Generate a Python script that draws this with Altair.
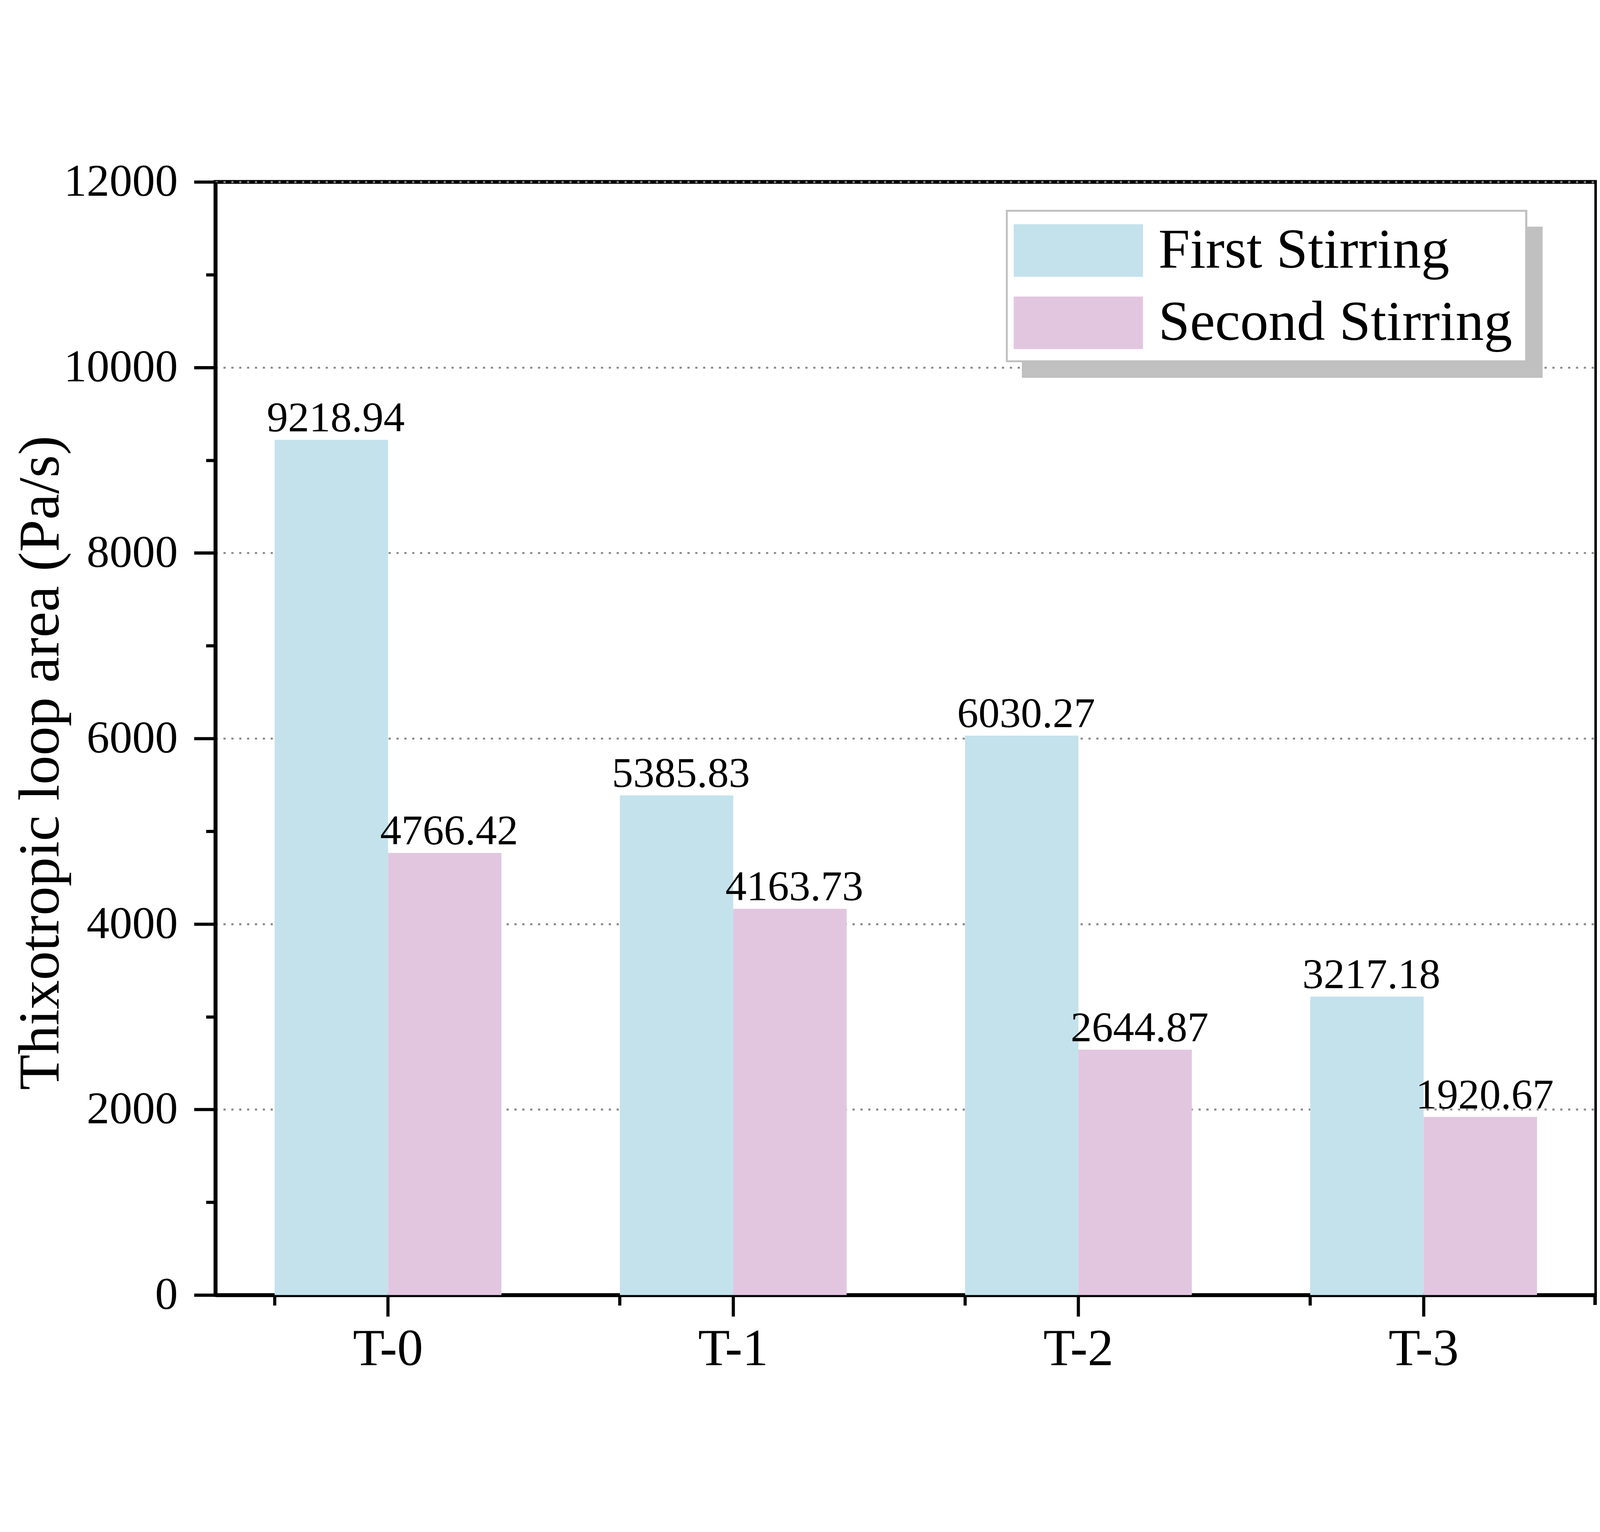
import altair as alt
import pandas as pd

categories = ["T-0", "T-1", "T-2", "T-3"]
series = ["First Stirring", "Second Stirring"]
first_values = [9218.94, 5385.83, 6030.27, 3217.18]
second_values = [4766.42, 4163.73, 2644.87, 1920.67]
colors = ["#C3E2EC", "#E2C6E0"]
y_major = [0, 2000, 4000, 6000, 8000, 10000, 12000]
y_minor = [1000, 3000, 5000, 7000, 9000, 11000]
y_title = "Thixotropic loop area (Pa/s)"

rows = []
for c, a, b in zip(categories, first_values, second_values):
    rows.append({"category": c, "series": series[0], "value": a})
    rows.append({"category": c, "series": series[1], "value": b})
df = pd.DataFrame(rows)

W, H = 4386, 3536
FONT = "Liberation Serif"

xscale = alt.Scale(domain=categories, paddingInner=0.343, paddingOuter=0.1715)
yscale = alt.Scale(domain=[0, 12000], nice=False, zero=True)
offscale = alt.Scale(domain=series, paddingInner=0, paddingOuter=0)
color_scale = alt.Scale(domain=series, range=colors)

base = alt.Chart(df)

bars = base.mark_bar().encode(
    x=alt.X("category:N", scale=xscale, sort=categories,
            axis=alt.Axis(orient="bottom", title=None, labelAngle=0, labelFont=FONT,
                          labelFontSize=165, labelColor="black", labelPadding=25,
                          labelLimit=2000,
                          tickSize=68, tickWidth=10, tickColor="black",
                          domainColor="black", domainWidth=12, grid=False)),
    xOffset=alt.XOffset("series:N", scale=offscale, sort=series),
    y=alt.Y("value:Q", scale=yscale,
            axis=alt.Axis(orient="left", values=y_major, format="d", title=y_title,
                          titleFont=FONT, titleFontSize=185, titleFontWeight="normal",
                          titleColor="black", titleX=-499, titleY=1846,
                          titleBaseline="alphabetic", titleAlign="center", titleAngle=270,
                          titleLimit=5000,
                          labelFont=FONT, labelFontSize=145, labelColor="black",
                          labelPadding=52, labelFlush=False, labelLimit=2000,
                          labelOverlap=False,
                          tickSize=68, tickWidth=10, tickColor="black",
                          domainColor="black", domainWidth=12,
                          grid=True, gridColor="#888888", gridDash=[7, 18], gridWidth=6)),
    color=alt.Color("series:N", scale=color_scale, sort=series,
                    legend=alt.Legend(title=None, orient="none", legendX=2516, legendY=92,
                                      direction="vertical", padding=22,
                                      symbolType="M-1,-0.803H2.952V0.803H-1Z",
                                      symbolSize=43264, symbolStrokeWidth=0, symbolOpacity=1,
                                      labelFont=FONT, labelFontSize=180, labelColor="black",
                                      labelOffset=252, rowPadding=36, labelLimit=3000)),
)

labels = base.mark_text(font=FONT, fontSize=135, color="black", baseline="alphabetic",
                        align="center", dx=14, dy=-27).encode(
    x=alt.X("category:N", scale=xscale, sort=categories,
            axis=alt.Axis(orient="bottom", bandPosition=0, labels=False, domain=False,
                          grid=False, title=None, tickSize=33, tickWidth=10,
                          tickColor="black")),
    xOffset=alt.XOffset("series:N", scale=offscale, sort=series),
    y=alt.Y("value:Q", scale=yscale,
            axis=alt.Axis(orient="left", values=y_minor, labels=False, domain=False,
                          grid=False, title=None, tickSize=30, tickWidth=10,
                          tickColor="black")),
    text=alt.Text("value:Q", format=".2f"),
)

shadow = alt.Chart(df).mark_rect(color="#c0c0c0").encode(
    x=alt.value(2564), x2=alt.value(4219), y=alt.value(143), y2=alt.value(622))
box = alt.Chart(df).mark_rect(fill="white", stroke="#c0c0c0", strokeWidth=6).encode(
    x=alt.value(2516), x2=alt.value(4167), y=alt.value(92), y2=alt.value(570))
edge_tick = alt.Chart(df).mark_rule(color="black", strokeWidth=10).encode(
    x=alt.value(W), y=alt.value(H), y2=alt.value(H + 33))

chart = alt.layer(bars, labels, shadow, box, edge_tick).resolve_axis(
    x="independent", y="independent"
).properties(
    width=5067, height=3905,
    padding={"left": 28, "top": 24, "right": 2, "bottom": 15},
    autosize=alt.AutoSizeParams(type="fit", contains="padding"),
).configure(font=FONT).configure_view(stroke="black", strokeWidth=12)

chart.save("out.html", embed_options={"renderer": "svg", "actions": False})
